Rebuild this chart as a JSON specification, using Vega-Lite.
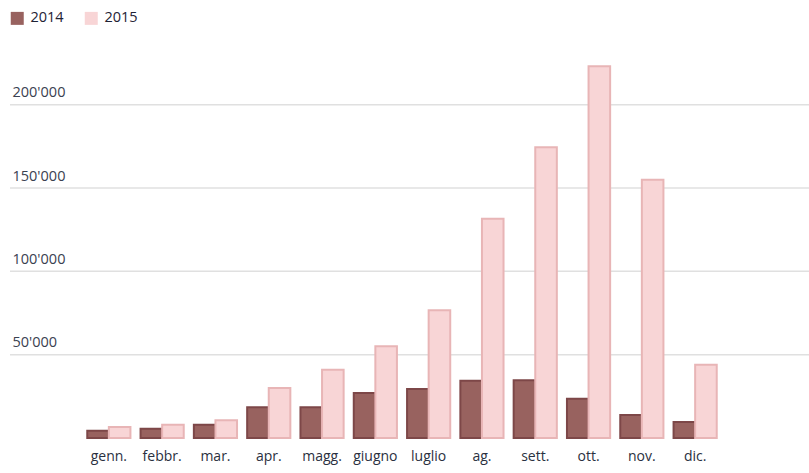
{
  "$schema": "https://vega.github.io/schema/vega-lite/v6.json",
  "autosize": "none",
  "width": 799,
  "height": 400,
  "padding": {"left": 10, "top": 38, "right": 0, "bottom": 35},
  "config": {
    "view": {"stroke": null},
    "font": "Open Sans"
  },
  "datasets": {
    "mesi": [
      {"mese": "genn.", "anno": "2014", "valore": 4400},
      {"mese": "genn.", "anno": "2015", "valore": 6600},
      {"mese": "febbr.", "anno": "2014", "valore": 5600},
      {"mese": "febbr.", "anno": "2015", "valore": 8000},
      {"mese": "mar.", "anno": "2014", "valore": 8000},
      {"mese": "mar.", "anno": "2015", "valore": 10600},
      {"mese": "apr.", "anno": "2014", "valore": 18400},
      {"mese": "apr.", "anno": "2015", "valore": 30000},
      {"mese": "magg.", "anno": "2014", "valore": 18400},
      {"mese": "magg.", "anno": "2015", "valore": 41000},
      {"mese": "giugno", "anno": "2014", "valore": 27000},
      {"mese": "giugno", "anno": "2015", "valore": 55000},
      {"mese": "luglio", "anno": "2014", "valore": 29400},
      {"mese": "luglio", "anno": "2015", "valore": 76600},
      {"mese": "ag.", "anno": "2014", "valore": 34400},
      {"mese": "ag.", "anno": "2015", "valore": 131600},
      {"mese": "sett.", "anno": "2014", "valore": 34600},
      {"mese": "sett.", "anno": "2015", "valore": 174400},
      {"mese": "ott.", "anno": "2014", "valore": 23600},
      {"mese": "ott.", "anno": "2015", "valore": 223000},
      {"mese": "nov.", "anno": "2014", "valore": 13800},
      {"mese": "nov.", "anno": "2015", "valore": 155000},
      {"mese": "dic.", "anno": "2014", "valore": 9600},
      {"mese": "dic.", "anno": "2015", "valore": 44000}
    ],
    "griglia": [
      {"v": 50000}, {"v": 100000}, {"v": 150000}, {"v": 200000}
    ]
  },
  "layer": [
    {
      "data": {"name": "griglia"},
      "mark": {"type": "rule", "color": "#e0e0e0", "strokeWidth": 1.5},
      "encoding": {"y": {"field": "v", "type": "quantitative"}}
    },
    {
      "data": {"name": "mesi"},
      "mark": {"type": "bar", "strokeWidth": 2},
      "encoding": {
        "x": {
          "field": "mese",
          "type": "nominal",
          "sort": null,
          "scale": {"paddingInner": 0.19, "paddingOuter": 0.095, "range": [72.2, 711.8]},
          "axis": {
            "title": null,
            "labelAngle": 0,
            "ticks": false,
            "domain": false,
            "labelFontSize": 14,
            "labelColor": "#2a3040",
            "labelPadding": 11,
            "grid": false
          }
        },
        "xOffset": {"field": "anno", "type": "nominal", "scale": {"paddingInner": 0, "paddingOuter": 0}},
        "y": {
          "field": "valore",
          "type": "quantitative",
          "scale": {"domain": [0, 240000], "nice": false},
          "axis": {
            "title": null,
            "values": [50000, 100000, 150000, 200000],
            "labelExpr": "replace(format(datum.value, ','), ',', \"'\")",
            "domain": false,
            "ticks": false,
            "tickSize": 0,
            "grid": false,
            "labelAlign": "left",
            "labelBaseline": "alphabetic",
            "labelPadding": -2,
            "labelOffset": -8,
            "labelFontSize": 14.5,
            "labelColor": "#3a4150"
          }
        },
        "fill": {
          "field": "anno",
          "type": "nominal",
          "scale": {"domain": ["2014", "2015"], "range": ["#98625f", "#f8d5d6"]},
          "legend": {
            "title": null,
            "orient": "none",
            "legendX": 0,
            "legendY": -27,
            "direction": "horizontal",
            "symbolType": "square",
            "symbolSize": 169,
            "symbolStrokeWidth": 0,
            "labelFontSize": 14.5,
            "labelColor": "#1e2235",
            "labelOffset": 6,
            "columnPadding": 20
          }
        },
        "stroke": {
          "field": "anno",
          "type": "nominal",
          "scale": {"domain": ["2014", "2015"], "range": ["#7d4748", "#e8b5b6"]},
          "legend": null
        }
      }
    },
    {
      "mark": {"type": "rule", "color": "#222222", "strokeWidth": 2},
      "encoding": {"y": {"datum": 0}}
    }
  ]
}
